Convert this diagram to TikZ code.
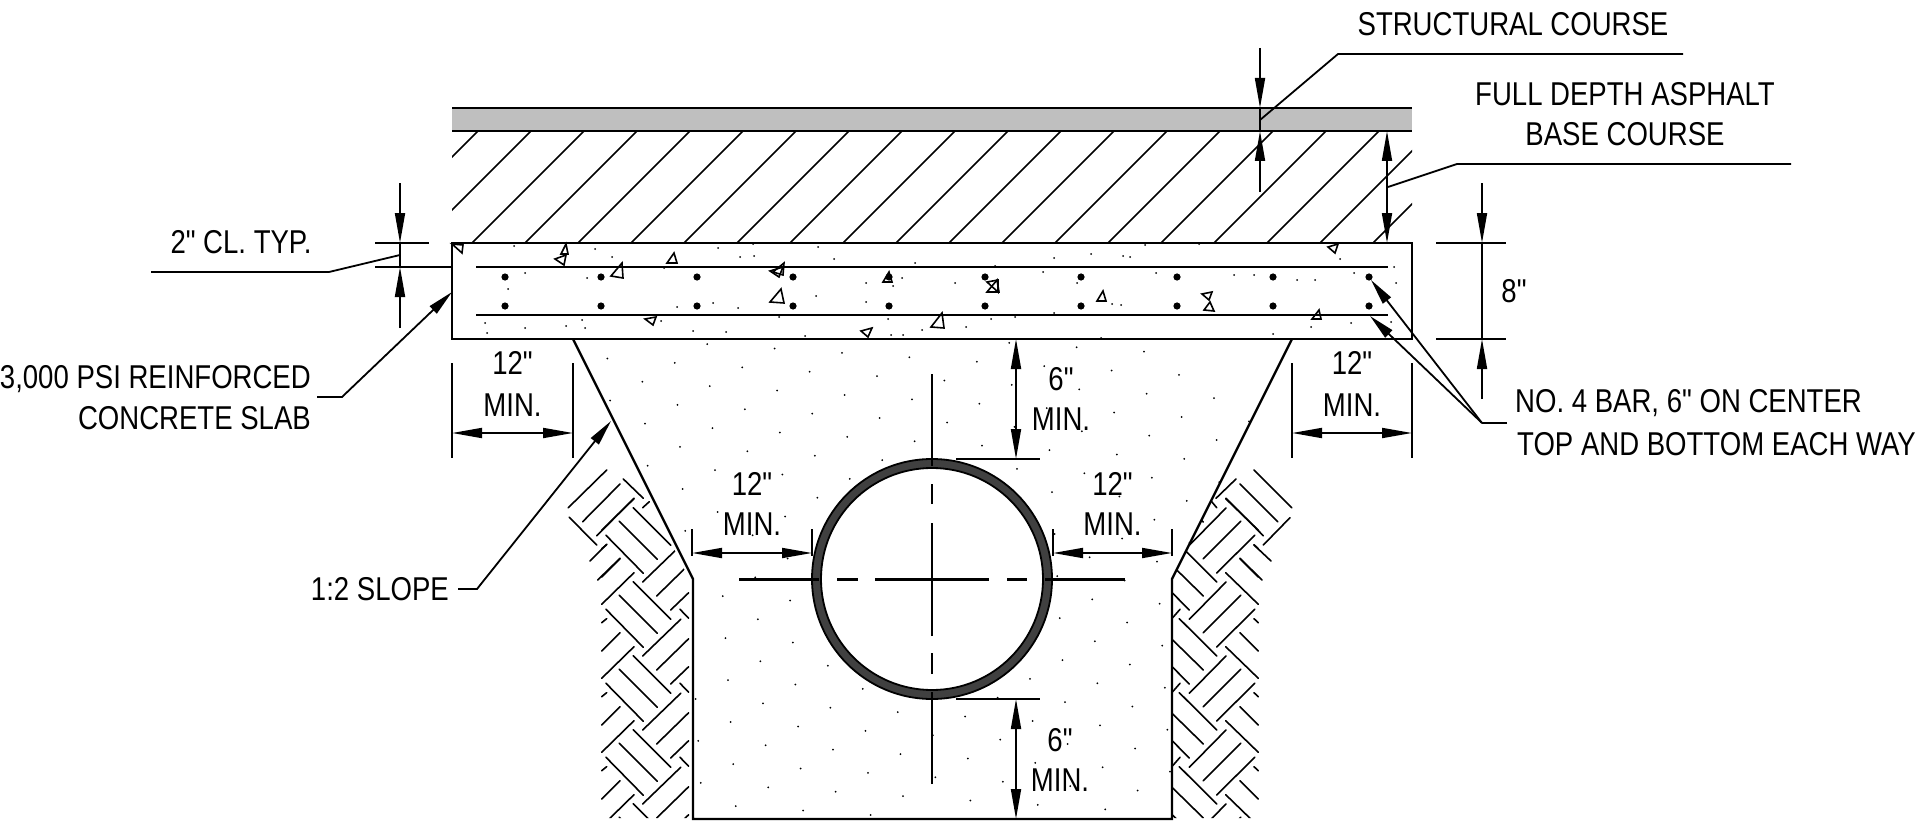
\documentclass[tikz,border=0pt]{standalone}
\usepackage{fontspec}
\newfontfamily\labelfont[FakeStretch=0.835]{Liberation Sans}
\usetikzlibrary{arrows.meta}
\definecolor{bandgray}{RGB}{191,191,191}
\definecolor{ringgray}{RGB}{64,64,64}

\begin{document}
\begin{tikzpicture}[x=1pt, y=-1pt,
				label/.style=		{inner sep=0pt, font=\labelfont\fontsize{33}{40}\selectfont},
				outline/.style=		{line width=2.4pt, draw=black},
				thinline/.style=	{line width=1.8pt, draw=black},
				hatch/.style=		{line width=1.6pt, draw=black},
				soil/.style=		{line width=1.6pt, draw=black, line cap=round},
				aggregate/.style=	{line width=1.6pt, draw=black},
				centerline/.style=	{line width=2.2pt, draw=black},
				dimtip/.style=		{arrows={-Triangle[length=30pt,width=10pt]}, thinline},
				dimboth/.style=		{arrows={Triangle[length=30pt,width=10pt]-Triangle[length=30pt,width=10pt]}, thinline},
				leadtip/.style=		{arrows={-Triangle[length=26pt,width=10pt]}, thinline}]
	\useasboundingbox (0,0) rectangle (1925,824);
	\def\soilstep{74}

	\coordinate (pipe) at (932,579);

	% asphalt hatch
	\begin{scope}
		\clip (452,131) rectangle (1412,243);
		\foreach \k in {0,...,19}
			\draw[hatch] ({478+53*\k},131) -- ({366+53*\k},243);
	\end{scope}

	% structural course
	\fill[bandgray] (452,108) rectangle (1412,131);
	\draw[outline] (452,108) -- (1412,108);
	\draw[outline] (452,131) -- (1412,131);

	% slab
	\draw[outline] (452,243) rectangle (1412,339);
	\draw[outline] (476,267) -- (1388,267);
	\draw[outline] (476,315) -- (1388,315);
	\foreach \k in {0,...,9} {
		\fill ({505+96*\k},277) circle (3.6pt);
		\fill ({505+96*\k},306) circle (3.6pt);
	}
	\foreach \ax/\ay/\bx/\by/\cx/\cy in {452/244/463/245/462/253, 561/254/568/254/566/244, 555/259/566/255/564/265,
			611/276/623/278/622/263, 667/263/677/263/674/253, 773/272/784/263/783/275, 770/271/783/267/779/277,
			770/302/784/303/781/289, 883/282/892/282/889/272, 645/319/656/317/653/325, 861/331/872/328/868/337,
			931/327/944/328/942/313, 1328/247/1338/244/1335/253, 987/282/998/280/998/292, 987/292/999/292/997/280,
			1097/301/1106/301/1103/291, 1202/294/1212/292/1209/300, 1204/310/1214/311/1210/302, 1312/319/1321/319/1319/310}
		\draw[aggregate] (\ax,\ay) -- (\bx,\by) -- (\cx,\cy) -- cycle;
	\foreach \x/\y in {514/246, 595/249, 612/257, 718/248, 740/257, 754/256, 818/247, 834/259, 915/263,
			525/273, 508/289, 587/278, 664/268, 713/303, 738/308, 677/307, 816/296, 866/283, 893/286, 902/278, 866/302, 888/319,
			485/323, 487/333, 525/328, 566/326, 585/328, 582/320, 693/331, 726/332, 779/317, 805/336, 891/335, 903/335, 922/330,
			640/339, 753/244, 661/321, 955/283,
			1054/258, 1091/254, 1123/256, 1130/257, 995/266, 1043/272, 1077/283, 1156/273, 1234/275, 1254/275, 1297/280, 1315/280,
			1354/273, 1396/283, 1394/267, 1121/305, 1112/304, 1054/313, 991/319, 1015/317, 966/327, 1145/245, 1199/244,
			1273/334, 1351/323, 1391/322, 1311/327, 1340/259, 1101/338}
		\fill (\x,\y) circle (1pt);

	% trench backfill
	\begin{scope}
		\clip (573,341) -- (693,579) -- (693,818) -- (1172,818) -- (1172,579) -- (1292,341) -- cycle;
		\foreach \i in {-9,...,10}
			\foreach \j in {-6,...,18}
				\fill ({645+67.4*\i+35*\j},{423.7+4.4*\i+23.2*\j}) circle (1pt);
	\end{scope}
	\draw[outline] (573,339) -- (693,579) -- (693,819) -- (1172,819) -- (1172,579) -- (1292,339);

	% soil left
	\begin{scope}
		\clip (550,339) -- (569,339) -- (689,579) -- (689,818) -- (550,818) -- cycle;
		\foreach \k in {-2,...,2}
			\foreach \xa/\ya/\xb/\yb in {633.3/655.7/670.7/693.3, 619.3/669.3/657.3/707.3, 606/683.3/643.3/721.3,
					601.7/678.3/634/646.7, 642.7/730/680.7/693.3, 656.7/744/688.7/712.7, 670.7/684/688.7/666.7,
					601.7/725/620/706.7, 680/683.3/688.7/692.3, 601.7/696.7/606.7/692.7}
				\draw[soil] (\xa,\ya+\soilstep*\k) -- (\xb,\yb+\soilstep*\k);
		\foreach \xa/\ya/\xb/\yb in {568.3/507.7/606.7/470, 582.7/521.7/620/484, 596.7/535.7/634/498.3, 623.3/479/643.3/498.3,
				642.7/507.7/649.3/501.7, 569.3/517.3/596.7/545, 590/561/606.7/544.3, 597.7/580/620/558.3}
			\draw[soil] (\xa,\ya) -- (\xb,\yb);
	\end{scope}

	% soil right
	\begin{scope}
		\clip (1292,339) -- (1172,579) -- (1172,818) -- (1300,818) -- (1300,339) -- cycle;
		\foreach \k in {-2,...,2}
			\foreach \xa/\ya/\xb/\yb in {1225.7/646.7/1258.3/678.3, 1172.7/667.3/1189.3/684, 1172.7/640/1203.3/670,
					1179.3/692.7/1216.7/730, 1240/706.7/1258.3/725, 1254/692.7/1258.3/696.7,
					1189.3/693.3/1226/656, 1203.3/706.7/1240.7/669.3, 1216.7/721/1254.7/683.3, 1172.7/691.7/1180/683.3}
				\draw[soil] (\xa,\ya+\soilstep*\k) -- (\xb,\yb+\soilstep*\k);
		\foreach \xa/\ya/\xb/\yb in {1254/470/1291.7/507.7, 1240/484/1277.7/521.7, 1226/498.3/1263.3/535.7, 1216/498.3/1236/479,
				1211.7/501.7/1216.7/507.7, 1263.3/545/1290/517.7, 1254/545/1271/561, 1240/558.3/1262/580}
			\draw[soil] (\xa,\ya) -- (\xb,\yb);
	\end{scope}

	% pipe
	\fill[white] (pipe) circle (120pt);
	\draw[line width=9pt, draw=ringgray] (pipe) circle (115.5pt);
	\draw[thinline] (pipe) circle (120pt);
	\draw[thinline] (pipe) circle (111pt);

	% center lines
	\foreach \a/\b in {-193/-113, -95/-74, -57/57, 75/95, 113/193}
		\draw[centerline, line width=3pt] ([xshift=\a pt]pipe) -- ([xshift=\b pt]pipe);
	\foreach \a/\b in {-205/-113, -95/-74, -57/56, 75/95, 113/205}
		\draw[centerline] ([yshift=\a pt]pipe) -- ([yshift=\b pt]pipe);

	% structural course dimension and leader
	\coordinate (structtop) at (1260,48);
	\coordinate (structbot) at (1260,192);
	\draw[dimtip] (structtop) -- (1260,108);
	\draw[dimtip] (structbot) -- (1260,131);
	\draw[thinline] (1260,108) -- (1260,131);
	\node[label] (structlabel) at (1513,24) {STRUCTURAL COURSE};
	\draw[thinline] (1260,120) -- (1338,54) -- (1683,54);

	% base course dimension and leader
	\draw[dimboth] (1387,131) -- (1387,243);
	\node[label] (baselabela) at (1625,94) {FULL DEPTH ASPHALT};
	\node[label] (baselabelb) at (1625,134) {BASE COURSE};
	\draw[thinline] (1388,187) -- (1457,164) -- (1791,164);

	% 8 inch dimension
	\draw[thinline] (1436,243) -- (1506,243);
	\draw[thinline] (1436,339) -- (1506,339);
	\draw[dimtip] (1482,183) -- (1482,243);
	\draw[dimtip] (1482,399) -- (1482,339);
	\draw[thinline] (1482,243) -- (1482,339);
	\node[label] (slablabel) at (1514,291) {8"};

	% cover dimension
	\draw[thinline] (375,243) -- (429,243);
	\draw[thinline] (375,267) -- (452,267);
	\draw[dimtip] (400,183) -- (400,243);
	\draw[dimtip] (400,328) -- (400,267);
	\draw[thinline] (400,243) -- (400,267);
	\node[label] (coverlabel) at (241,242) {2" CL. TYP.};
	\draw[thinline] (400,255) -- (329,272) -- (151,272);

	% slab leader
	\node[label, anchor=east] (concretea) at (311,379) {3,000 PSI REINFORCED};
	\node[label, anchor=east] (concreteb) at (311,418) {CONCRETE SLAB};
	\draw[leadtip] (317,397) -- (342,397) -- (452,292);

	% overhang dimensions
	\foreach \xa/\xb/\nm in {452/573/overl, 1292/1412/overr} {
		\draw[thinline] (\xa,363) -- (\xa,458);
		\draw[thinline] (\xb,363) -- (\xb,458);
		\draw[dimboth] (\xa,433) -- (\xb,433);
		\node[label] (\nm a) at ({(\xa+\xb)/2},363) {12"};
		\node[label] (\nm b) at ({(\xa+\xb)/2},405) {MIN.};
	}

	% pipe side dimensions
	\foreach \xa/\xb/\nm in {692/812/sidel, 1053/1172/sider} {
		\draw[thinline] (\xa,529) -- (\xa,556);
		\draw[thinline] (\xb,529) -- (\xb,556);
		\draw[dimboth] (\xa,553) -- (\xb,553);
		\node[label] (\nm a) at ({(\xa+\xb)/2},484) {12"};
		\node[label] (\nm b) at ({(\xa+\xb)/2},524) {MIN.};
	}

	% pipe cover dimensions
	\draw[thinline] (956,459) -- (1040,459);
	\draw[dimboth] (1016,339) -- (1016,459);
	\node[label] (topcovera) at (1061,379) {6"};
	\node[label] (topcoverb) at (1061,419) {MIN.};
	\draw[thinline] (956,699) -- (1040,699);
	\draw[outline] (956,819) -- (1040,819);
	\draw[dimboth] (1016,699) -- (1016,819);
	\node[label] (botcovera) at (1060,740) {6"};
	\node[label] (botcoverb) at (1060,780) {MIN.};

	% slope leader
	\node[label, anchor=east] (slopelabel) at (449,589) {1:2 SLOPE};
	\draw[leadtip] (458,589) -- (477,589) -- (611,421);

	% bar leader
	\coordinate (barknee) at (1482,423);
	\node[label, anchor=west] (bara) at (1515,403) {NO. 4 BAR, 6" ON CENTER};
	\node[label, anchor=west] (barb) at (1517,444) {TOP AND BOTTOM EACH WAY};
	\draw[thinline] (1507,423) -- (barknee);
	\draw[leadtip] (barknee) -- (1371,280);
	\draw[leadtip] (barknee) -- (1370,316);
\end{tikzpicture}
\end{document}
